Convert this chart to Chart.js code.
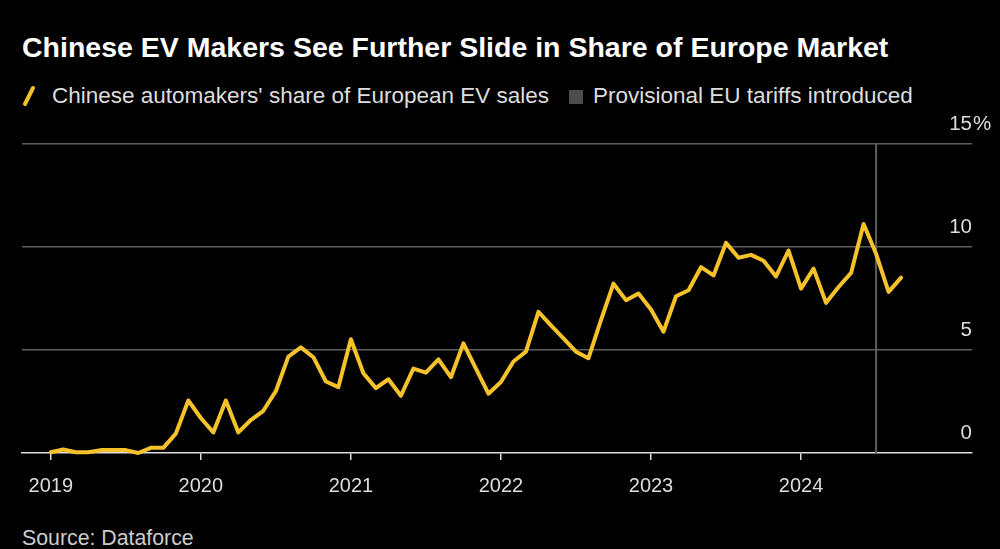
<!DOCTYPE html>
<html><head><meta charset="utf-8">
<script src="https://cdn.jsdelivr.net/npm/chart.js@4.4.1/dist/chart.umd.min.js"></script>
<style>
html,body{margin:0;padding:0;background:#000;}
#wrap{position:relative;width:1000px;height:549px;background:#000;overflow:hidden;font-family:"Liberation Sans",Arial,sans-serif;}
#title{position:absolute;left:22px;top:33px;color:#fff;font-weight:bold;font-size:28.5px;line-height:1;white-space:nowrap;}
#legend{position:absolute;left:22px;top:85px;color:#ddd;font-size:22.5px;line-height:1;white-space:nowrap;}
#legend span{position:absolute;top:0;white-space:nowrap;}
#slash{position:absolute;left:0;top:0;}
#sq{position:absolute;left:547px;top:5px;width:14px;height:14px;background:#4d4d4d;}
#source{position:absolute;left:22px;top:528px;color:#ccc;font-size:21.3px;line-height:1;white-space:nowrap;}
#cv{position:absolute;left:0;top:0;}
</style></head>
<body>
<div id="wrap">
  <div id="title">Chinese EV Makers See Further Slide in Share of Europe Market</div>
  <div id="legend">
    <svg id="slash" width="20" height="24"><line x1="3" y1="19" x2="11" y2="3" stroke="#f5c22c" stroke-width="4" stroke-linecap="round"/></svg>
    <span style="left:30px">Chinese automakers' share of European EV sales</span>
    <div id="sq"></div>
    <span style="left:571px">Provisional EU tariffs introduced</span>
  </div>
  <div id="source">Source: Dataforce</div>
  <canvas id="cv" width="1000" height="549"></canvas>
</div>
<script>
const months = [
 "2019-01","2019-02","2019-03","2019-04","2019-05","2019-06","2019-07","2019-08","2019-09","2019-10","2019-11","2019-12",
 "2020-01","2020-02","2020-03","2020-04","2020-05","2020-06","2020-07","2020-08","2020-09","2020-10","2020-11","2020-12",
 "2021-01","2021-02","2021-03","2021-04","2021-05","2021-06","2021-07","2021-08","2021-09","2021-10","2021-11","2021-12",
 "2022-01","2022-02","2022-03","2022-04","2022-05","2022-06","2022-07","2022-08","2022-09","2022-10","2022-11","2022-12",
 "2023-01","2023-02","2023-03","2023-04","2023-05","2023-06","2023-07","2023-08","2023-09","2023-10","2023-11","2023-12",
 "2024-01","2024-02","2024-03","2024-04","2024-05","2024-06","2024-07","2024-08","2024-09"
];
const share = [
 0.04,0.17,0.04,0.04,0.14,0.14,0.14,0.0,0.25,0.25,0.94,2.55,
 1.7,1.0,2.55,1.0,1.6,2.05,3.0,4.68,5.13,4.65,3.47,3.2,
 5.52,3.87,3.15,3.58,2.78,4.1,3.9,4.55,3.68,5.32,4.1,2.88,
 3.45,4.44,4.92,6.85,6.2,5.56,4.92,4.6,6.45,8.22,7.42,7.74,
 6.97,5.89,7.61,7.9,9.02,8.62,10.2,9.48,9.62,9.33,8.57,9.83,
 7.98,8.95,7.29,8.06,8.74,11.12,9.67,7.82,8.51
];
const yearTicks = ["2019","2020","2021","2022","2023","2024"];
const yTicks = [0,5,10,15];
const yTickLabels = ["0","5","10","15%"];
const tariffMonth = "2024-07";

Chart.defaults.font.family = '"Liberation Sans", Arial, sans-serif';

const tariffLine = {
  id: 'tariffLine',
  beforeDatasetsDraw(chart) {
    const {ctx, chartArea, scales} = chart;
    const x = scales.x.getPixelForValue(months.indexOf(tariffMonth));
    ctx.save();
    ctx.strokeStyle = '#5e5e5e';
    ctx.lineWidth = 2;
    ctx.beginPath();
    ctx.moveTo(x, chartArea.top);
    ctx.lineTo(x, chartArea.bottom);
    ctx.stroke();
    ctx.restore();
  }
};
const yLabels = {
  id: 'yLabels',
  afterDraw(chart) {
    const {ctx, chartArea, scales} = chart;
    ctx.save();
    ctx.font = '20.5px "Liberation Sans", Arial, sans-serif';
    ctx.fillStyle = '#ddd';
    ctx.textBaseline = 'alphabetic';
    yTicks.forEach((v, i) => {
      const y = scales.y.getPixelForValue(v) - 14.5;
      let lab = yTickLabels[i];
      let suffix = '';
      if (lab.endsWith('%')) { suffix = '%'; lab = lab.slice(0, -1); }
      ctx.textAlign = 'right';
      ctx.fillText(lab, chartArea.right, y);
      if (suffix) { ctx.textAlign = 'left'; ctx.fillText(suffix, chartArea.right + 1, y); }
    });
    ctx.restore();
  }
};

new Chart(document.getElementById('cv'), {
  type: 'line',
  data: {
    datasets: [{
      label: "Chinese automakers' share of European EV sales",
      data: months.map((m, i) => ({x: i, y: share[i]})),
      borderColor: '#f5c22c',
      borderWidth: 4,
      pointRadius: 0,
      tension: 0,
      borderJoinStyle: 'round',
      borderCapStyle: 'round',
      clip: false
    }]
  },
  options: {
    responsive: false,
    animation: false,
    layout: {padding: {left: 22, right: 28, top: 144, bottom: 36}},
    plugins: {legend: {display: false}, tooltip: {enabled: false}},
    scales: {
      x: {
        type: 'linear', min: -2.3, max: 73.67,
        afterBuildTicks: s => { s.ticks = yearTicks.map(y => ({value: months.indexOf(y + '-01')})); },
        afterFit: s => { s.height = 60; },
        ticks: {
          color: '#ddd', font: {size: 20}, padding: 14, autoSkip: false, maxRotation: 0,
          callback: v => { const m = months[v]; return m ? m.slice(0, 4) : ''; }
        },
        grid: {drawOnChartArea: false, drawTicks: true, tickLength: 7, color: '#ddd', lineWidth: 1.5},
        border: {display: true, color: '#ddd', width: 1.5}
      },
      y: {
        position: 'right', min: 0, max: 15,
        afterBuildTicks: s => { s.ticks = yTicks.map(v => ({value: v})); },
        afterFit: s => { s.width = 0; },
        ticks: {display: false},
        grid: {
          color: c => (c.tick && c.tick.value === 0) ? 'rgba(0,0,0,0)' : '#5e5e5e',
          lineWidth: 1.5, drawTicks: false
        },
        border: {display: false}
      }
    }
  },
  plugins: [tariffLine, yLabels]
});
</script>
</body></html>
